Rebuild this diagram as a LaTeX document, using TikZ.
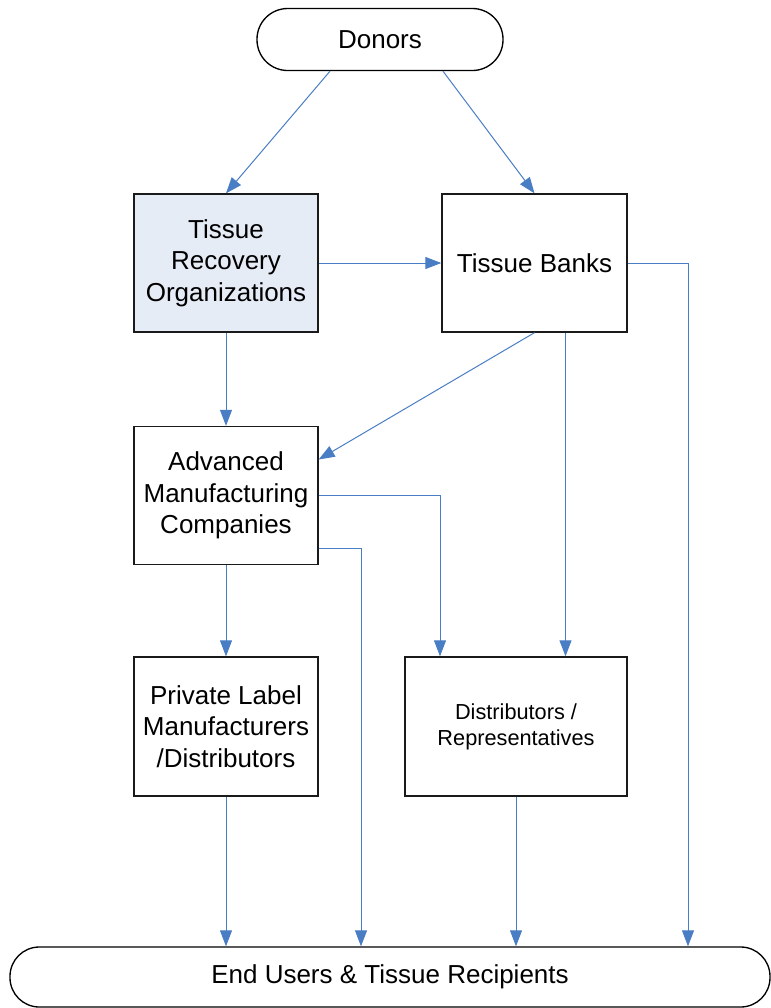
\documentclass[tikz,border=0pt]{standalone}
\usepackage{fontspec}
\setmainfont{Liberation Sans}
\usetikzlibrary{arrows.meta,calc}
\definecolor{conn}{HTML}{4A7EC4}
\definecolor{trofill}{HTML}{E6ECF6}
\definecolor{edge}{HTML}{1A1A1A}
\begin{document}
\begin{tikzpicture}[x=0.75pt,y=-0.75pt,
  box/.style={draw=edge,line width=1pt,fill=white,inner sep=0pt,align=center,
    font=\fontsize{19.5pt}{23.7pt}\selectfont,minimum width=138pt,minimum height=103.5pt},
  term/.style={draw=black,line width=1pt,fill=white,inner sep=0pt,align=center,
    font=\fontsize{19.5pt}{23.7pt}\selectfont},
  link/.style={draw=conn,line width=0.75pt,-{Triangle[length=12pt,width=9pt]},conn}]
\useasboundingbox (0,0) rectangle (771,1008);
\node[term,rounded corners=23pt,minimum width=184.5pt,minimum height=46.5pt] (donors) at (380,39.5) {Donors};
\node[box,fill=trofill] (tro) at (226,263) {Tissue\\Recovery\\Organizations};
\node[box,minimum width=138.75pt] (tb) at (534.5,263) {Tissue Banks};
\node[box] (amc) at (226,495.5) {Advanced\\Manufacturing\\Companies};
\node[box,minimum height=104.25pt] (pl) at (226,726.5) {Private Label\\Manufacturers\\/Distributors};
\node[box,minimum width=166.5pt,minimum height=104.25pt,font=\fontsize{16.3pt}{19.5pt}\selectfont] (dist) at (516,726.5) {Distributors /\\Representatives};
\node[term,rounded corners=22pt,minimum width=570pt,minimum height=45pt] (eu) at (390,977) {End Users \& Tissue Recipients};

\draw[link] ([xshift=-37.5pt]donors.south) -- (tro.north);
\draw[link] ([xshift=47.25pt]donors.south) -- (tb.north);
\draw[link] (tro.east) -- (tb.west);
\draw[link] (tb.east) -| ([xshift=223.5pt]eu.north);
\draw[link] (tro.south) -- (amc.north);
\draw[link] (tb.south) -- ([yshift=27pt]amc.east);
\draw[link] ([xshift=23.25pt]tb.south) -- ([xshift=23.25pt]tb.south |- dist.north);
\draw[link] (amc.east) -| ([xshift=-57pt]dist.north);
\draw[link] ([yshift=-39.75pt]amc.east) -| ([xshift=-21.75pt]eu.north);
\draw[link] (amc.south) -- (pl.north);
\draw[link] (pl.south) -- (pl.south |- eu.north);
\draw[link] (dist.south) -- (dist.south |- eu.north);
\end{tikzpicture}
\end{document}
